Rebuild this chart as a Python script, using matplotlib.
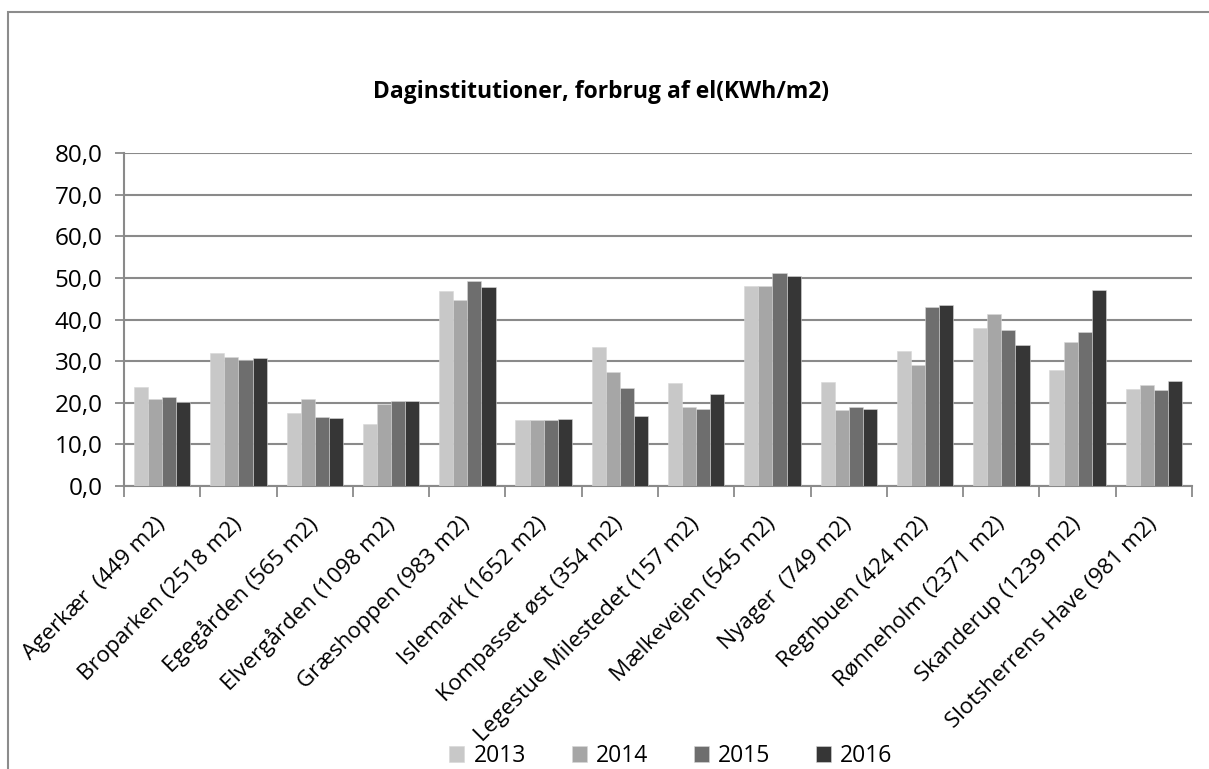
import matplotlib
matplotlib.use('Agg')
import matplotlib.pyplot as plt
from matplotlib.patches import Rectangle
import numpy as np

""" --- data --- """
institutions = ['Agerkær  (449 m2)', 'Broparken (2518 m2)', 'Egegården (565 m2)',
                'Elvergården (1098 m2)', 'Græshoppen (983 m2)', 'Islemark (1652 m2)',
                'Kompasset øst (354 m2)', 'Legestue Milestedet (157 m2)',
                'Mælkevejen (545 m2)', 'Nyager  (749 m2)', 'Regnbuen (424 m2)',
                'Rønneholm (2371 m2)', 'Skanderup (1239 m2)', 'Slotsherrens Have (981 m2)']
years = ['2013', '2014', '2015', '2016']
el_2013 = [23.7, 31.9, 17.6, 14.9, 46.8, 15.9, 33.5, 24.7, 48.0, 25.1, 32.5, 37.9, 27.8, 23.4]
el_2014 = [21.0, 31.0, 20.8, 19.8, 44.8, 15.9, 27.3, 18.9, 48.0, 18.2, 29.1, 41.3, 34.7, 24.2]
el_2015 = [21.3, 30.2, 16.5, 20.4, 49.2, 15.9, 23.6, 18.6, 51.1, 18.9, 43.1, 37.6, 36.9, 23.0]
el_2016 = [20.3, 30.7, 16.3, 20.4, 47.7, 16.2, 16.9, 22.1, 50.4, 18.5, 43.6, 33.8, 47.1, 25.2]
yticks = [0, 10, 20, 30, 40, 50, 60, 70, 80]

colors = ['#c8c8c8', '#a6a6a6', '#6e6e6e', '#363636']
FONT = 'Open Sans'


def main_plot():
    plt.rcParams['font.family'] = [FONT, 'DejaVu Sans']
    fig = plt.figure(figsize=(12.09, 7.69), dpi=100)
    ax = fig.add_axes([0.1026, 0.368, 0.8834, 0.433])

    # outer chart frame
    fig.patches.append(Rectangle((8 / 1209, -0.1), 1.2, 1 - 12 / 769 + 0.1,
                                 transform=fig.transFigure, fill=False,
                                 edgecolor='#8c8c8c', linewidth=1.5))

    series = [el_2013, el_2014, el_2015, el_2016]
    x = np.arange(len(institutions))
    w = 0.185
    for i, vals in enumerate(series):
        ax.bar(x + (i - 1.5) * w, vals, width=w, color=colors[i], label=years[i],
               edgecolor='#d8d8d8', linewidth=0.4, zorder=3)

    ax.set_xlim(-0.5, len(institutions) - 0.5)
    ax.set_ylim(0, 80)
    ax.set_yticks(yticks)
    ax.set_yticklabels(['{0:.1f}'.format(v).replace('.', ',') for v in yticks],
                       fontsize=17.5)
    ax.yaxis.grid(True, color='#8a8a8a', linewidth=1.5, zorder=0)
    ax.set_axisbelow(True)

    # category ticks at the boundaries, labels at centers
    ax.set_xticks(np.arange(len(institutions) + 1) - 0.5)
    ax.set_xticklabels([])
    ax.set_xticks(x, minor=True)
    ax.set_xticklabels(institutions, minor=True, rotation=45, ha='right',
                       va='center', rotation_mode='anchor', fontsize=16.2)
    ax.tick_params(axis='x', which='minor', length=0, pad=25)
    ax.tick_params(axis='x', which='major', length=8, width=1.3, color='#8a8a8a',
                   direction='out')
    ax.tick_params(axis='y', length=6.5, width=1.3, color='#8a8a8a', direction='out',
                   pad=9)

    for side in ['top', 'right']:
        ax.spines[side].set_visible(False)
    for side in ['left', 'bottom']:
        ax.spines[side].set_color('#8a8a8a')
        ax.spines[side].set_linewidth(1.5)

    fig.text(0.497, 1 - 92 / 769, 'Daginstitutioner, forbrug af el(KWh/m2)',
             ha='center', va='center', fontsize=16.5, fontweight='bold')

    fig.legend(loc='center', bbox_to_anchor=(671 / 1209, 1 - 756 / 769), ncol=4,
               frameon=False, fontsize=16.5, handlelength=0.65, handleheight=0.65,
               handletextpad=0.4, columnspacing=2.0)

    fig.savefig('out.png', dpi=100)


if __name__ == '__main__':
    main_plot()
